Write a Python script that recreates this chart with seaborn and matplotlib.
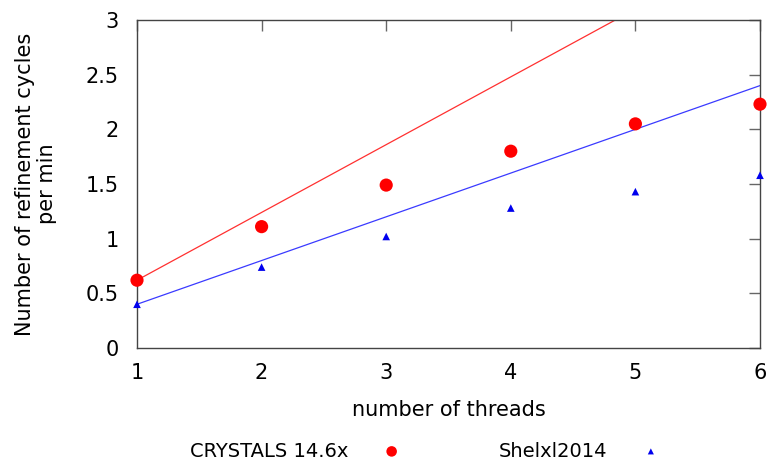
import numpy as np
import pandas as pd
import matplotlib
matplotlib.use("Agg")
import matplotlib.pyplot as plt
import seaborn as sns

threads = [1, 2, 3, 4, 5, 6]
crystals = [0.62, 1.11, 1.49, 1.80, 2.05, 2.23]
shelxl = [0.40, 0.74, 1.02, 1.28, 1.43, 1.58]
labels = ["CRYSTALS 14.6x", "Shelxl2014"]

sns.set_style("white")
plt.rcParams['font.family'] = ['DejaVu Sans']
plt.rcParams['text.color'] = 'black'
plt.rcParams['axes.labelcolor'] = 'black'

df = pd.DataFrame({"threads": threads, "crystals": crystals, "shelxl": shelxl})
# ideal linear scaling from the single-thread value
df["crystals_ideal"] = df["crystals"].iloc[0] * df["threads"]
df["shelxl_ideal"] = df["shelxl"].iloc[0] * df["threads"]

fig = plt.figure(figsize=(7.7, 4.61), dpi=100)
ax = fig.add_axes([137/770, 1-348/461, (760-137)/770, (348-20)/461])

sns.lineplot(data=df, x="threads", y="crystals_ideal", ax=ax, color="#ff3030", lw=0.9)
sns.lineplot(data=df, x="threads", y="shelxl_ideal", ax=ax, color="#3a3aff", lw=0.9)
sns.scatterplot(data=df, x="threads", y="crystals", ax=ax, color="#ff0000", s=90,
                marker="o", edgecolor="none", label=labels[0], clip_on=False, zorder=5)
sns.scatterplot(data=df, x="threads", y="shelxl", ax=ax, color="#0000ee", s=30,
                marker="^", edgecolor="none", label=labels[1], clip_on=False, zorder=5)

ax.set_xlim(1, 6)
ax.set_ylim(0, 3)
ax.set_xticks(threads)
ax.set_yticks([0, 0.5, 1, 1.5, 2, 2.5, 3])
ax.set_yticklabels(["0", "0.5", "1", "1.5", "2", "2.5", "3"])
ax.tick_params(direction="in", length=8, width=1, color="#666666", labelsize=15,
               labelcolor="black", top=True, right=True)
ax.tick_params(axis="x", pad=11)
ax.tick_params(axis="y", pad=13)
for sp in ax.spines.values():
    sp.set_color("#444444")
    sp.set_linewidth(1)
ax.set_xlabel("number of threads", fontsize=15, labelpad=12)
ax.set_ylabel("Number of refinement cycles\nper min", fontsize=15, labelpad=21,
              linespacing=1.1)

h, l = ax.get_legend_handles_labels()
ax.legend_.remove()
fig.legend(h, l, loc="center", bbox_to_anchor=(0.552, 1-451/461), ncol=2,
           markerfirst=False, frameon=False, fontsize=14, handlelength=1.0,
           handletextpad=1.75, columnspacing=5.0, markerscale=0.8)

fig.savefig("out.png", dpi=100)
